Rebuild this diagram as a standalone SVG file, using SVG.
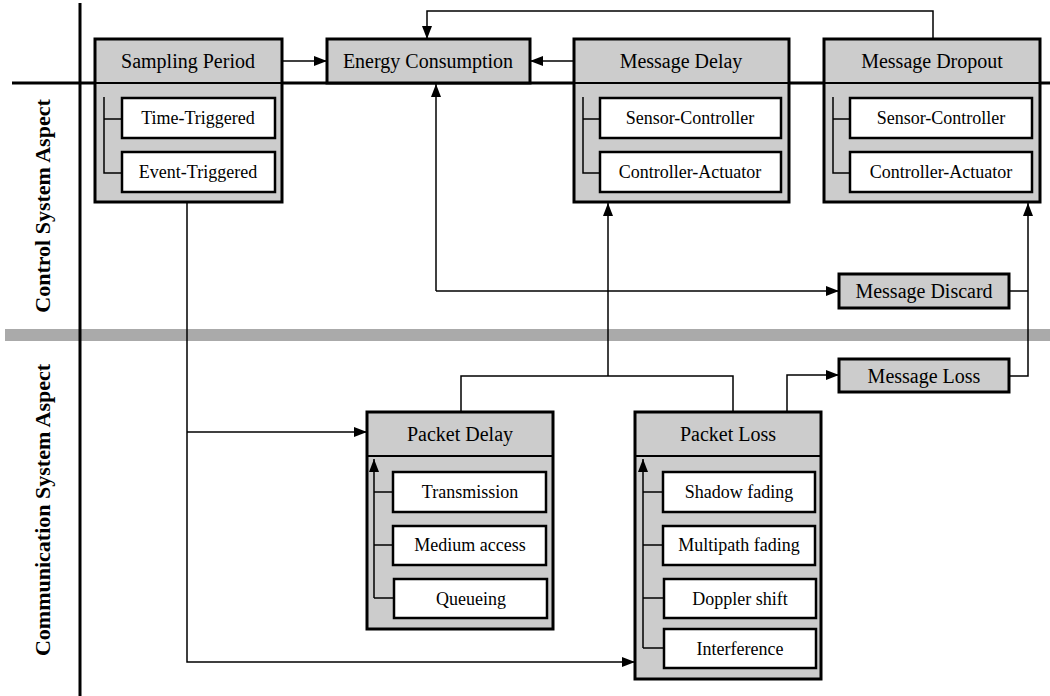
<svg xmlns="http://www.w3.org/2000/svg" width="1050" height="696" viewBox="0 0 1050 696">
<style>
.box{fill:#cccccc;stroke:#000;stroke-width:3}
.hd{fill:none;stroke:#000;stroke-width:2}
.in{fill:#fff;stroke:#000;stroke-width:2.5}
.t{font-family:"Liberation Serif",serif;font-size:20px;text-anchor:middle;fill:#000}
.s{font-family:"Liberation Serif",serif;font-size:18px;text-anchor:middle;fill:#000}
.side{font-family:"Liberation Serif",serif;font-size:22px;font-weight:bold;text-anchor:middle;fill:#000}
.c{fill:none;stroke:#000;stroke-width:1.5}
.tree{fill:none;stroke:#000;stroke-width:1.5}
</style>
<defs>
<marker id="a" markerUnits="userSpaceOnUse" markerWidth="14" markerHeight="12" refX="13" refY="6" orient="auto">
<path d="M0,1 L13,6 L0,11 Z" fill="#000"/>
</marker>
</defs>
<rect width="1050" height="696" fill="#fff"/>
<g id="axes">
<rect x="5" y="329" width="1045" height="12" fill="#aaaaaa"/>
<line x1="80" y1="3" x2="80" y2="696" stroke="#000" stroke-width="3"/>
<line x1="12" y1="83" x2="1050" y2="83" stroke="#000" stroke-width="3"/>
<text class="side" transform="translate(50,206) rotate(-90)">Control System Aspect</text>
<text class="side" transform="translate(50,510) rotate(-90)">Communication System Aspect</text>
</g>
<g id="connectors">
<line class="c" x1="282" y1="61" x2="327" y2="61" marker-end="url(#a)"/>
<line class="c" x1="574" y1="61" x2="530" y2="61" marker-end="url(#a)"/>
<path class="c" d="M933,39 V11 H427 V39" marker-end="url(#a)"/>
<path class="c" d="M436,291 V84" marker-end="url(#a)"/>
<path class="c" d="M436,291 H839" marker-end="url(#a)"/>
<path class="c" d="M608,376 V203" marker-end="url(#a)"/>
<path class="c" d="M461,412 V376 H733 V412"/>
<path class="c" d="M787,412 V375 H839" marker-end="url(#a)"/>
<path class="c" d="M1009,291 H1028"/>
<path class="c" d="M1009,376 H1028 V203" marker-end="url(#a)"/>
<path class="c" d="M187,202 V662 H635" marker-end="url(#a)"/>
<path class="c" d="M187,432 H367" marker-end="url(#a)"/>
</g>
<g id="sampling-period">
<rect class="box" x="95" y="39" width="187" height="163"/>
<line class="hd" x1="95" y1="83" x2="282" y2="83"/>
<text class="t" x="188" y="68">Sampling Period</text>
<path class="tree" d="M104,97 V173 H122 M104,119 H122"/>
<rect class="in" x="122" y="98" width="153" height="40"/>
<text class="s" x="198" y="124">Time-Triggered</text>
<rect class="in" x="122" y="152" width="153" height="40"/>
<text class="s" x="198" y="178">Event-Triggered</text>
</g>
<g id="energy-consumption">
<rect class="box" x="327" y="39" width="203" height="44"/>
<text class="t" x="428" y="68">Energy Consumption</text>
</g>
<g id="message-delay">
<rect class="box" x="574" y="39" width="215" height="163"/>
<line class="hd" x1="574" y1="83" x2="789" y2="83"/>
<text class="t" x="681" y="68">Message Delay</text>
<path class="tree" d="M583,97 V173 H600 M583,119 H600"/>
<rect class="in" x="600" y="98" width="181" height="40"/>
<text class="s" x="690" y="124">Sensor-Controller</text>
<rect class="in" x="600" y="152" width="181" height="40"/>
<text class="s" x="690" y="178">Controller-Actuator</text>
</g>
<g id="message-dropout">
<rect class="box" x="824" y="39" width="216" height="163"/>
<line class="hd" x1="824" y1="83" x2="1040" y2="83"/>
<text class="t" x="932" y="68">Message Dropout</text>
<path class="tree" d="M833,97 V173 H850 M833,119 H850"/>
<rect class="in" x="850" y="98" width="182" height="40"/>
<text class="s" x="941" y="124">Sensor-Controller</text>
<rect class="in" x="850" y="152" width="182" height="40"/>
<text class="s" x="941" y="178">Controller-Actuator</text>
</g>
<g id="message-discard">
<rect class="box" x="839" y="274" width="170" height="34"/>
<text class="t" x="924" y="298">Message Discard</text>
</g>
<g id="message-loss">
<rect class="box" x="839" y="359" width="170" height="33"/>
<text class="t" x="924" y="383">Message Loss</text>
</g>
<g id="packet-delay">
<rect class="box" x="367" y="412" width="186" height="217"/>
<line class="hd" x1="367" y1="456" x2="553" y2="456"/>
<text class="t" x="460" y="441">Packet Delay</text>
<path class="tree" d="M374,598 V459" marker-end="url(#a)"/>
<path class="tree" d="M374,492 H393 M374,545 H393 M374,598 H393"/>
<rect class="in" x="393" y="472" width="153" height="40"/>
<text class="s" x="470" y="498">Transmission</text>
<rect class="in" x="393" y="526" width="153" height="39"/>
<text class="s" x="470" y="551">Medium access</text>
<rect class="in" x="394" y="579" width="153" height="39"/>
<text class="s" x="471" y="605">Queueing</text>
</g>
<g id="packet-loss">
<rect class="box" x="635" y="412" width="186" height="267"/>
<line class="hd" x1="635" y1="456" x2="821" y2="456"/>
<text class="t" x="728" y="441">Packet Loss</text>
<path class="tree" d="M643,648 V459" marker-end="url(#a)"/>
<path class="tree" d="M643,492 H663 M643,545 H663 M643,598 H663 M643,648 H663"/>
<rect class="in" x="663" y="472" width="152" height="40"/>
<text class="s" x="739" y="498">Shadow fading</text>
<rect class="in" x="663" y="526" width="152" height="39"/>
<text class="s" x="739" y="551">Multipath fading</text>
<rect class="in" x="664" y="579" width="152" height="39"/>
<text class="s" x="740" y="605">Doppler shift</text>
<rect class="in" x="664" y="629" width="152" height="39"/>
<text class="s" x="740" y="655">Interference</text>
</g>
</svg>
